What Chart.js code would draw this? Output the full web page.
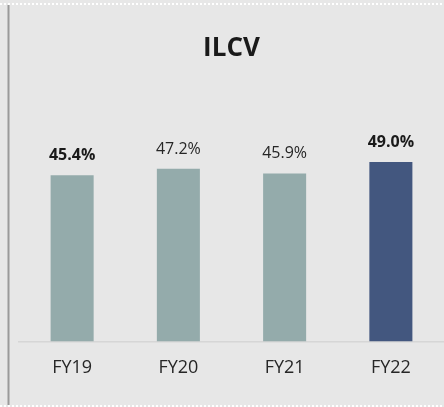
<!DOCTYPE html>
<html lang="en">
<head>
    <meta charset="UTF-8">
    <title>ILCV</title>
    <script src="https://cdn.jsdelivr.net/npm/chart.js"></script>
    <style>
        html, body { margin: 0; padding: 0; background: #e7e7e7; }
        #wrap { width: 444px; height: 407px; }
    </style>
</head>
<body>
<div id="wrap"><canvas id="ilcvChart" width="444" height="407"></canvas></div>
<script>
// chart data
const years = ['FY19', 'FY20', 'FY21', 'FY22'];
const shareValues = [45.4, 47.2, 45.9, 49.0];

// styling
const barColors = ['#94abab', '#94abab', '#94abab', '#43577f'];
const labelBold = [true, false, false, true];

// background, left rule and dotted edges
const frame = {
    id: 'frame',
    beforeDraw(chart) {
        const ctx = chart.ctx;
        ctx.save();
        ctx.fillStyle = '#e7e7e7';
        ctx.fillRect(0, 0, chart.width, chart.height);
        ctx.strokeStyle = '#ffffff';
        ctx.lineWidth = 2;
        ctx.setLineDash([2, 2]);
        ctx.beginPath();
        ctx.moveTo(0, 4); ctx.lineTo(chart.width, 4);
        ctx.moveTo(0, 406); ctx.lineTo(chart.width, 406);
        ctx.stroke();
        ctx.setLineDash([]);
        ctx.strokeStyle = '#9a9a9a';
        ctx.beginPath();
        ctx.moveTo(8.5, 5); ctx.lineTo(8.5, 405);
        ctx.stroke();
        ctx.restore();
    }
};

// value labels above bars
const valueLabels = {
    id: 'valueLabels',
    afterDatasetsDraw(chart) {
        const ctx = chart.ctx;
        const meta = chart.getDatasetMeta(0);
        ctx.save();
        ctx.textAlign = 'center';
        ctx.textBaseline = 'alphabetic';
        meta.data.forEach((bar, i) => {
            ctx.font = (labelBold[i] ? 'bold ' : '') + '16px "Open Sans"';
            ctx.fillStyle = labelBold[i] ? '#1a1a1a' : '#262626';
            ctx.fillText(shareValues[i].toFixed(1) + '%', bar.x, bar.y - 15);
        });
        ctx.restore();
    }
};

new Chart(document.getElementById('ilcvChart'), {
    type: 'bar',
    data: {
        labels: years,
        datasets: [{
            data: shareValues,
            backgroundColor: barColors,
            barPercentage: 0.405,
            categoryPercentage: 1
        }]
    },
    options: {
        responsive: false,
        animation: false,
        layout: { padding: { left: 19, right: 0, top: 0, bottom: 12 } },
        plugins: {
            legend: { display: false },
            tooltip: { enabled: false },
            title: {
                display: true,
                text: 'ILCV',
                color: '#1a1a1a',
                font: { family: '"Open Sans"', size: 26, weight: 'bold' },
                padding: { top: 33, bottom: 21 }
            }
        },
        scales: {
            x: {
                grid: { display: false, drawTicks: false },
                border: { display: true, color: '#d6d6d6', width: 1.5 },
                ticks: {
                    color: '#262626',
                    padding: 16,
                    font: { family: '"Open Sans"', size: 18 }
                }
            },
            y: {
                display: false,
                min: 0,
                max: 70
            }
        }
    },
    plugins: [frame, valueLabels]
});
</script>
</body>
</html>
